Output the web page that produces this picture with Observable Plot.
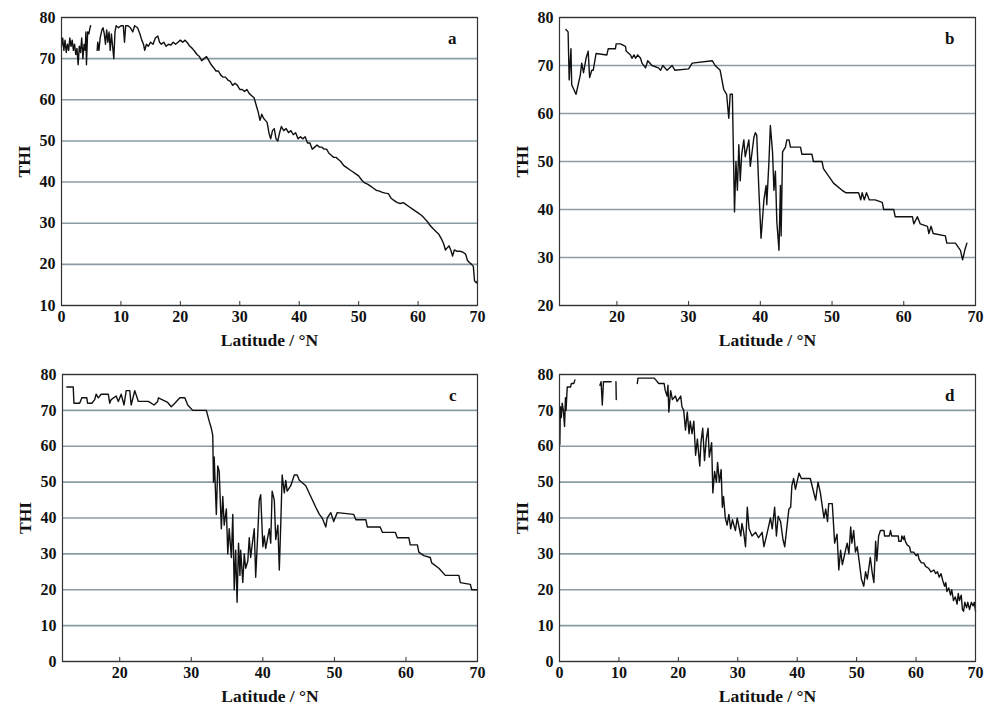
<!DOCTYPE html>
<html>
<head>
<meta charset="utf-8">
<script src="https://cdn.jsdelivr.net/npm/d3@7"></script>
<script src="https://cdn.jsdelivr.net/npm/@observablehq/plot@0.6"></script>
<style>
  html, body { margin: 0; padding: 0; background: #fff; }
  #wrap { position: relative; width: 985px; height: 711px; background: #fff; overflow: hidden; }
  .panel { position: absolute; }
</style>
</head>
<body>
<div id="wrap">
  <div class="panel" id="pa" style="left:0px;top:0px"></div>
  <div class="panel" id="pb" style="left:495px;top:0px"></div>
  <div class="panel" id="pc" style="left:0px;top:355px"></div>
  <div class="panel" id="pd" style="left:495px;top:355px"></div>
</div>
<script>
// ---------- Data (latitude °N, THI); null = gap ----------
const latA = [0,0.2,0.4,0.6,0.8,1.0,1.2,1.4,1.6,1.8,2.0,2.2,2.4,2.6,2.8,3.0,3.2,3.4,3.6,3.8,4.0,4.1,4.2,4.4,4.6,4.8,4.9,5.4,
  6.0,6.1,6.3,6.5,6.8,7.0,7.2,7.4,7.6,7.8,8.0,8.2,8.4,8.6,8.8,9.0,9.2,9.6,10.0,10.4,10.6,10.8,11.2,11.6,12.0,12.3,12.8,13.2,13.5,13.8,14.0,14.3,14.6,15.0,15.4,15.8,16.2,16.5,16.8,17.2,17.6,18.0,18.4,18.8,19.2,19.6,20.0,20.4,20.8,21.2,21.6,22.0,22.4,22.8,23.2,23.6,24.0,24.4,24.8,25.2,25.6,26.0,26.4,26.8,27.2,27.6,28.0,28.4,28.8,29.2,29.6,30.0,30.4,30.8,31.2,31.6,32.0,32.4,32.8,33.1,33.4,33.7,34.0,34.3,34.6,34.9,35.2,35.5,35.8,36.1,36.4,36.7,37.0,37.4,37.8,38.2,38.6,39.0,39.4,39.8,40.2,40.6,41.0,41.4,41.8,42.2,42.6,43.0,43.4,43.8,44.2,44.6,45.0,45.4,45.8,46.2,46.6,47.0,47.5,48.0,48.5,49.0,49.5,50.0,50.5,51.0,51.5,52.0,52.5,53.0,53.5,54.0,54.5,55.0,55.5,56.0,56.5,57.0,57.5,58.0,58.5,59.0,59.5,60.0,60.5,61.0,61.5,62.0,62.5,63.0,63.5,64.0,64.3,64.6,64.9,65.2,65.5,65.8,66.1,66.5,67.0,67.5,68.0,68.3,68.6,69.0,69.3,69.5,69.8,70];
const thiA = [73,75,72,74.5,71.5,73.5,72,75,73,74.5,72,73.5,71,72.5,68.5,73,71.5,75,70,73.5,72,76.5,68.5,76.5,76,77.5,78,null,
  72,74,72,75,77,77.5,76,73.5,77,74,76.5,72,76,73,70,76.5,78,77.5,78,78,74,78,78,77.5,76.5,78,77.5,76,74.5,73.5,72,73.5,73,74,73.5,75,75.5,74,73.5,74,73,73.5,73.3,74,73.5,74,74.5,74,74.5,73.8,73,72.5,71.8,71,70.5,69.5,70,70.5,69.5,68.5,67.8,67,67,66,65.5,65.5,64.8,64.5,63.5,64,63.5,62.5,62.5,62,62.5,61.5,61,60.5,58.5,57,55,56.5,55.5,55,54.5,52,50.5,52.5,53,50.5,50,52,53.5,52.5,53,52,52.5,51.5,52,50.5,51,50.5,51,49.5,49.5,48,48.5,49,48.5,48.5,48,48,47,46.5,46,46,45.5,45,44,43.5,43,42.5,42,41.5,40.5,39.8,39.5,39,38.5,38,37.8,37.5,37.3,37.2,36,35.5,35,34.8,35,34.5,34,33.5,33,32.5,32,31.3,30.5,29.5,28.7,28,27.3,26,25,23.5,24,24.5,23.5,22,23.5,23.2,23.2,23,22.5,21,20.5,20,19.5,16,15.5,16];

const latB = [12.9,13.2,13.35,13.6,13.7,14.0,14.3,14.9,15.1,15.35,15.7,16.0,16.2,16.5,16.7,17.1,18.6,18.8,19.8,19.9,20.5,21.2,21.3,21.9,22.1,22.4,22.6,22.9,23.3,23.5,24.0,24.3,24.9,25.8,26.1,26.4,27.0,27.7,28.1,30.0,30.5,33.3,33.7,34.4,34.9,35.3,35.6,35.8,36.1,36.4,36.6,36.8,37.0,37.2,37.4,37.7,37.9,38.4,38.6,39.1,39.3,39.5,39.8,40.1,40.5,40.8,40.9,41.2,41.4,41.7,41.9,42.1,42.3,42.6,42.8,42.9,43.1,43.5,43.7,44.0,44.2,45.6,45.8,47.2,47.4,48.6,48.8,49.5,50.2,51.4,51.9,53.7,54.0,54.2,54.5,54.8,55.2,56.0,57.0,57.2,57.7,58.6,58.8,61.2,61.4,61.9,62.3,63.3,63.5,63.8,64.1,65.8,66.0,67.2,67.9,68.2,68.5,68.8];
const thiB = [77.5,77,67,73.5,66,65,64,68,70.5,68.5,71.5,73,67.5,69,69,72.5,72.2,73.5,73.5,74.5,74.5,74,73,72.2,71.5,72.2,71.5,72.2,71.5,70.5,69.5,71,70,69.5,69,70,69,70,69,69.3,70.5,71,70,69,65,64,59,64,64,39.5,50,44,53.5,46,51.5,54.5,51,54.5,49,55,56,55.5,44,34,42,45,41,50,57.5,52,44,48,37.5,31.5,45,34.5,52,53,54.5,54.5,53,53,51.5,51.5,50,50,48.5,47,45.5,44,43.5,43.5,42,43.5,42,43.5,42,42,41.5,40,40,40,38.5,38.5,37,38.5,37,36.5,35,36.5,35,34.5,33,33,31.5,29.5,31.5,33];

const latC = [12.6,13.5,13.6,14.4,14.7,15.4,15.5,16.1,16.5,16.7,17.0,17.4,18.4,18.6,18.8,19.5,19.8,20.2,20.6,20.9,21.4,21.6,22.1,22.6,24.0,24.8,25.3,25.4,26.7,27.2,27.7,28.4,29.1,29.5,30.2,32.1,32.5,32.8,33.0,33.1,33.2,33.5,33.7,33.9,34.2,34.4,34.6,34.9,35.1,35.3,35.6,35.8,36.0,36.2,36.4,36.6,36.8,36.9,37.2,37.4,37.6,37.9,38.1,38.3,38.6,38.8,39.0,39.3,39.5,39.7,40.0,40.2,40.4,40.9,41.1,41.3,41.6,41.8,42.1,42.3,42.5,42.7,43.0,43.2,43.4,43.9,44.4,44.8,45.1,46.0,46.7,47.4,47.9,48.3,48.8,49.0,49.5,49.9,50.4,52.7,53.0,54.4,54.6,56.4,56.7,58.5,58.8,60.4,60.6,61.6,61.8,62.5,63.4,63.6,64.6,65.5,67.4,67.6,69.0,69.2,70];
const thiC = [76.5,76.5,72,72,73.5,73.5,72,72,73,74.5,73.5,74.5,74.5,72,73,74,72.5,74.5,71.5,75.5,75.5,71.5,75.5,72.5,72.5,71.5,72.5,73.5,72.2,71,72,73.5,73.5,71.5,70,70,67,65,63,50,57,41,54.5,53,37,46,38,42.5,30,37,29,41,20,31,16.5,33,24,31,22,30,26,28,34.5,29,34,37,23.5,36,45,46.5,32,35,31.5,37,33,47.5,45,34,38,25.5,38,52,47,50.5,47.5,49,52,52,50.5,49,46,43,41,40,37.5,40,41.5,39,41.5,41,39.5,39.5,37.5,37.5,36,36,34.5,34.5,32.5,32.5,30.5,29.5,29,27.5,26,24,24,22,21.5,20,20];

const latD = [0.05,0.15,0.3,0.45,0.65,0.85,1.0,1.1,1.3,1.85,2.0,2.4,2.6,3.5,
  6.8,7.0,7.2,7.4,8.7,9.0,9.5,9.55,11,
  13.1,13.2,15.9,16.2,16.7,17.6,17.8,18.1,18.25,18.4,18.7,19.0,19.5,19.8,20.4,20.6,20.9,21.2,21.5,21.8,22.0,22.3,22.6,22.9,23.2,23.6,23.8,24.1,24.4,24.7,25.0,25.2,25.6,25.8,26.1,26.4,26.6,26.9,27.2,27.4,27.6,27.9,28.2,28.5,28.8,29.1,29.6,29.9,30.5,30.7,31.0,31.3,31.6,31.9,32.4,33.0,33.5,34.1,34.4,34.9,35.5,35.8,36.2,36.5,36.8,37.2,37.6,37.9,38.3,38.6,38.9,39.1,39.4,39.7,40.3,40.7,42.2,42.5,43.1,43.5,43.9,44.5,44.8,45.1,45.3,45.9,46.3,46.7,47.0,47.3,47.6,48.0,48.4,48.7,49.0,49.2,49.5,49.8,50.1,50.5,50.8,51.2,51.5,51.8,52.3,52.6,52.9,53.2,53.4,53.7,
  54.0,54.6,54.7,55.5,55.7,55.9,57.0,57.1,57.5,57.6,57.9,58.0,58.2,58.5,58.9,59.1,59.6,60.0,60.3,60.5,60.9,61.3,61.6,62.1,62.5,63.0,63.3,63.6,63.9,64.2,64.5,64.8,65.0,65.2,65.5,65.8,66.0,66.3,66.6,66.9,67.1,67.3,67.6,67.8,68.0,68.2,68.5,68.7,69.0,69.3,69.6,69.8,70];
const thiD = [60.5,71,68,72,70,65.5,73.5,70,76.5,76.5,77.5,77.5,78.5,null,
  77,78,71.5,78,78,null,78,73,null,
  77.5,79,79,78.5,77.5,77.5,75.5,74,77,69.5,75.5,73,74,72.5,74,71,70,64.5,69.5,63.5,67,63.5,67,57.5,62,54.5,61,65,56,62,65,57,61,47,53,50,55.5,50,53.5,43,46,40,38,41,37,39.5,36.5,40,35,38.5,36,32,43,37,35,36,34.5,36,32,35.5,40,37,43,35,40.5,39,34,32,38,42.5,43,49,51,48,52.5,51,51,49,45,50,47,40,42.5,39,44,44,33,35.5,25.5,31,27,30,33,30,37.5,33,36.5,30.5,32,27,23,21,25,23,29,25,22,33.5,28,35,
  36.5,36.5,35,35,36.5,35,35,33.5,33.5,35,34,35,33.5,32.5,32,30.5,30.5,29.5,30,28.5,27.5,27.5,26.5,26,25,25.5,24.5,25,23.5,24.5,22.5,21,22,19.5,20.5,18.5,20,17,18,16,19,17,18.5,14.5,14,16.5,15,16.5,14.5,16.5,15.5,16.5,14];

const panelLabels = ["a", "b", "c", "d"];
const xTicksAll = [0, 10, 20, 30, 40, 50, 60, 70];
const yTicksA = [10, 20, 30, 40, 50, 60, 70, 80];
const yTicksB = [20, 30, 40, 50, 60, 70, 80];
const yTicksCD = [0, 10, 20, 30, 40, 50, 60, 70, 80];

// ---------- Drawing ----------
const FONT = "'Liberation Serif', 'Times New Roman', serif";

function panel(el, lat, thi, cfg) {
  const data = lat.map((x, i) => ({x, y: thi[i]}));
  const innerH = cfg.height - cfg.mt - cfg.mb;
  const xt = xTicksAll.filter(t => t >= cfg.xd[0] && t <= cfg.xd[1]);
  const chart = Plot.plot({
    width: 490,
    height: cfg.height,
    marginLeft: cfg.ml, marginRight: cfg.mr, marginTop: cfg.mt, marginBottom: cfg.mb,
    style: {fontFamily: FONT, fontWeight: "bold", fontSize: "16px", color: "#111", background: "#fff", overflow: "visible"},
    x: {domain: cfg.xd, label: "Latitude / °N", labelAnchor: "center", labelOffset: 40, labelArrow: "none"},
    y: {domain: cfg.yd, label: "THI", labelAnchor: "center", labelOffset: 44, labelArrow: "none"},
    marks: [
      Plot.gridY(cfg.yt, {stroke: "#8a9ca6", strokeOpacity: 1, strokeWidth: 1.6}),
      Plot.line(data, {x: "x", y: "y", stroke: "#111", strokeWidth: 1.4}),
      Plot.frame({stroke: "#333", strokeWidth: 1.2}),
      Plot.tickX(xt, {x: d => d, stroke: "#333", insetTop: innerH - 4}),
      Plot.axisX({ticks: xt, tickSize: 0, tickPadding: 5, fontSize: 16, label: "Latitude / °N", labelAnchor: "center", labelOffset: 40, labelArrow: "none"}),
      Plot.axisY({ticks: cfg.yt, tickSize: 0, tickPadding: 6, fontSize: 16, label: "THI", labelAnchor: "center", labelOffset: 44, labelArrow: "none"}),
      Plot.text([cfg.tag], {frameAnchor: "top-right", dx: -21, dy: 21, lineAnchor: "middle", fontSize: 17, fontWeight: "bold", fill: "#111"})
    ]
  });
  chart.querySelectorAll("g[aria-label='x-axis label'] text, g[aria-label='y-axis label'] text").forEach(t => t.setAttribute("font-size", "17.5"));
  document.getElementById(el).appendChild(chart);
}

panel("pa", latA, thiA, {height: 355, ml: 61, mr: 13, mt: 17, mb: 50, xd: [0, 70], yd: [10, 80], yt: yTicksA, tag: panelLabels[0]});
panel("pb", latB, thiB, {height: 355, ml: 64, mr: 10, mt: 17, mb: 50, xd: [12, 70], yd: [20, 80], yt: yTicksB, tag: panelLabels[1]});
panel("pc", latC, thiC, {height: 356, ml: 62, mr: 13, mt: 19, mb: 50, xd: [12, 70], yd: [0, 80], yt: yTicksCD, tag: panelLabels[2]});
panel("pd", latD, thiD, {height: 356, ml: 64, mr: 10, mt: 19, mb: 50, xd: [0, 70], yd: [0, 80], yt: yTicksCD, tag: panelLabels[3]});
</script>
</body>
</html>
